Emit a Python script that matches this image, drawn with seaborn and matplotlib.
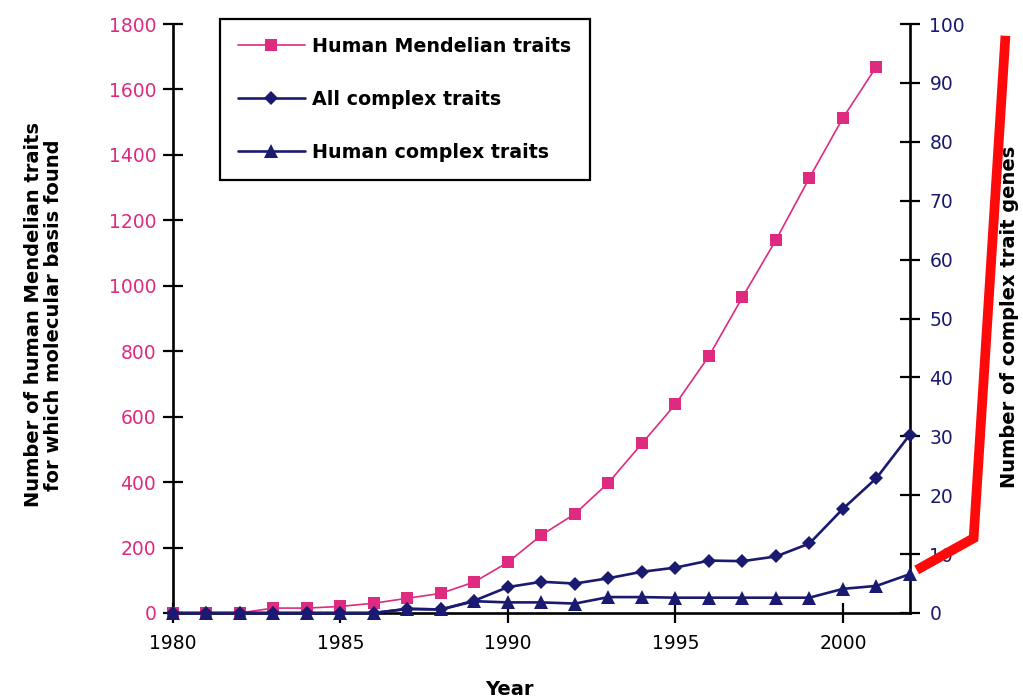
import matplotlib
matplotlib.use('Agg')
import matplotlib.pyplot as plt
import seaborn as sns
from matplotlib.lines import Line2D

# ---- data ----
years = list(range(1980, 2003))
mendelian_years = list(range(1980, 2002))
mendelian = [0, 0, 0, 15, 15, 20, 30, 45, 60, 95, 155, 238, 303, 398, 518, 638,
             785, 965, 1140, 1330, 1513, 1670]
all_complex = [0, 0, 0, 0, 0, 0, 0, 0.7, 0.6, 2.1, 4.4, 5.3, 5.0, 5.9, 7.0, 7.7,
               8.9, 8.8, 9.6, 11.8, 17.7, 22.9, 30.3]
human_complex = [0, 0, 0, 0, 0, 0, 0, 0.7, 0.6, 2.0, 1.8, 1.8, 1.6, 2.7, 2.7, 2.6,
                 2.6, 2.6, 2.6, 2.6, 4.1, 4.6, 6.6]
# hand-drawn red extrapolation (right axis units)
red_x = [2002.2, 2003.9, 2004.85]
red_y = [7.3, 12.7, 98]

series_names = ["Human Mendelian traits", "All complex traits", "Human complex traits"]
x_ticks = [1980, 1985, 1990, 1995, 2000]
left_ticks = list(range(0, 1801, 200))
right_ticks = list(range(0, 101, 10))

PINK = "#de2a7f"
NAVY = "#1a1a70"
RED = "#ff0a0a"

sns.set_theme(style="white")
plt.rcParams['font.family'] = ['DejaVu Sans']

fig = plt.figure(figsize=(10.23, 7.00), dpi=100)
ax = fig.add_axes([0.169, 0.1243, 0.8895 - 0.169, 0.9657 - 0.1243])
ax2 = ax.twinx()

sns.lineplot(x=mendelian_years, y=mendelian, ax=ax, color=PINK, linewidth=1.2,
             marker='s', markersize=9, markeredgewidth=0, clip_on=False, zorder=3)
sns.lineplot(x=years, y=all_complex, ax=ax2, color=NAVY, linewidth=1.9,
             marker='D', markersize=7.6, markeredgewidth=0, clip_on=False, zorder=4)
sns.lineplot(x=years, y=human_complex, ax=ax2, color=NAVY, linewidth=1.9,
             marker='^', markersize=10, markeredgewidth=0, clip_on=False, zorder=4)
sns.lineplot(x=red_x, y=red_y, ax=ax2, color=RED, linewidth=7, clip_on=False,
             zorder=6, sort=False, solid_joinstyle='miter', solid_capstyle='butt')

ax.set_xlim(1980, 2002)
ax.set_ylim(0, 1800)
ax2.set_ylim(0, 100)
ax.set_xticks(x_ticks)
ax.set_yticks(left_ticks)
ax2.set_yticks(right_ticks)
ax.set_xticklabels([str(v) for v in x_ticks])
ax.set_yticklabels([str(v) for v in left_ticks])
ax2.set_yticklabels([str(v) for v in right_ticks])

for a in (ax, ax2):
    a.set_facecolor('none')
    a.grid(False)
    a.spines['top'].set_visible(False)
    for s in a.spines.values():
        s.set_color('black')
        s.set_linewidth(1.9)
ax.spines['right'].set_visible(False)
ax2.spines['left'].set_visible(False)
ax2.spines['bottom'].set_visible(False)

ax.tick_params(axis='y', direction='inout', length=14, width=1.6, colors='black',
               labelcolor=PINK, labelsize=13.5, pad=5, left=True)
ax.tick_params(axis='x', direction='inout', length=14, width=1.6, colors='black',
               labelcolor='black', labelsize=13.5, pad=8, bottom=True)
ax2.tick_params(axis='y', direction='inout', length=14, width=1.6, colors='black',
                labelcolor=NAVY, labelsize=13.5, pad=7, right=True)

ax.set_xlabel("Year", fontsize=14, fontweight='bold', color='black')
ax.xaxis.set_label_coords(0.457, -0.114)
ax.set_ylabel("Number of human Mendelian traits\nfor which molecular basis found",
              fontsize=14, fontweight='bold', color='black', linespacing=1.1)
ax.yaxis.set_label_coords(-0.149, 0.506)
ax2.set_ylabel("Number of complex trait genes", fontsize=14, fontweight='bold',
               color='black', rotation=90)
ax2.yaxis.set_label_coords(1.122, 0.503)

handles = [
    Line2D([], [], color=PINK, linewidth=1.2, marker='s', markersize=9, markeredgewidth=0),
    Line2D([], [], color=NAVY, linewidth=1.9, marker='D', markersize=7.6, markeredgewidth=0),
    Line2D([], [], color=NAVY, linewidth=1.9, marker='^', markersize=10, markeredgewidth=0),
]
leg = ax2.legend(handles, series_names, loc='upper left', bbox_to_anchor=(0.064, 1.0085),
                 borderaxespad=0, frameon=True, fancybox=False, framealpha=1,
                 edgecolor='black', handlelength=3.5, handletextpad=0.4,
                 labelspacing=1.78, borderpad=0.95, labelcolor='black',
                 prop={'weight': 'bold', 'size': 13.7})
leg.get_frame().set_linewidth(1.6)
leg.set_zorder(10)

fig.savefig("out.png", dpi=100, facecolor='white')
